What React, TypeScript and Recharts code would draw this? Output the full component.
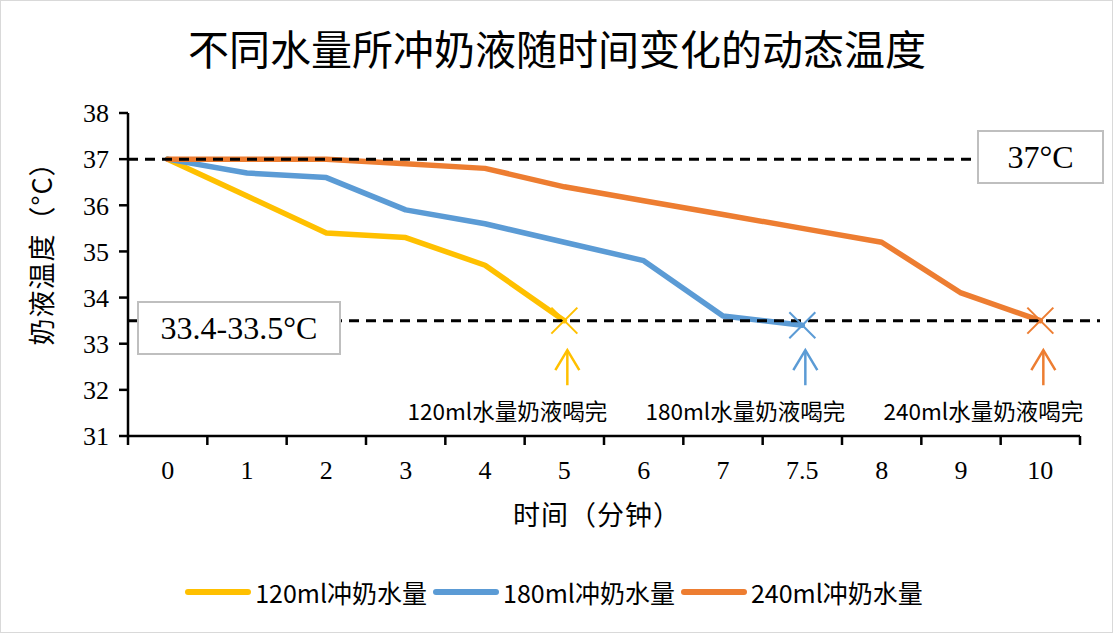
import React from 'react';
import { LineChart, Line, XAxis, YAxis, ReferenceLine } from 'recharts';

// time points (minutes) shown on the x axis, evenly spaced as categories
const TIME_LABELS = ['0', '1', '2', '3', '4', '5', '6', '7', '7.5', '8', '9', '10'];

// milk temperature (°C) per time point; null once the bottle is finished
const ML120 = [37, 36.2, 35.4, 35.3, 34.7, 33.5, null, null, null, null, null, null];
const ML180 = [37, 36.7, 36.6, 35.9, 35.6, 35.2, 34.8, 33.6, 33.4, null, null, null];
const ML240 = [37, 37, 37, 36.9, 36.8, 36.4, 36.1, 35.8, 35.5, 35.2, 34.1, 33.5];

const Y_TICKS = [31, 32, 33, 34, 35, 36, 37, 38];
const START_TEMP = 37;
const END_TEMP = 33.5;

const SERIES = [
  { key: 'ml120', name: '120ml冲奶水量', note: '120ml水量奶液喝完', color: '#FFC000', values: ML120 },
  { key: 'ml180', name: '180ml冲奶水量', note: '180ml水量奶液喝完', color: '#5B9BD5', values: ML180 },
  { key: 'ml240', name: '240ml冲奶水量', note: '240ml水量奶液喝完', color: '#ED7D31', values: ML240 },
];

const data = TIME_LABELS.map((label, i) => ({
  i,
  label,
  ml120: ML120[i],
  ml180: ML180[i],
  ml240: ML240[i],
}));

const lastIndex = (vals: (number | null)[]) => {
  let last = -1;
  vals.forEach((v, i) => {
    if (v != null) last = i;
  });
  return last;
};

// category boundaries get the tick marks, category centres get the labels
const X_TICKS: number[] = [];
TIME_LABELS.forEach((_, i) => X_TICKS.push(i - 0.5, i));
X_TICKS.push(TIME_LABELS.length - 0.5);

const CJK = '"Noto Sans CJK SC", "Noto Sans", sans-serif';
const SERIF = '"Liberation Serif", "DejaVu Serif", serif';

const XTick = (props: any) => {
  const { x, y, payload } = props;
  const v = payload.value;
  if (!Number.isInteger(v)) {
    return <line x1={x} y1={y} x2={x} y2={y + 9} stroke="#000" strokeWidth={2.5} />;
  }
  return (
    <text x={x} y={y + 34} textAnchor="middle" dominantBaseline="central" fontFamily={SERIF} fontSize={26} fill="#000">
      {TIME_LABELS[v]}
    </text>
  );
};

const endMarker = (last: number, color: string) => (props: any) => {
  const { cx, cy, index } = props;
  if (index !== last || cx == null || cy == null) return <g key={`n-${index}`} />;
  const s = 13;
  return (
    <g key={`x-${index}`}>
      <line x1={cx - s} y1={cy - s} x2={cx + s} y2={cy + s} stroke={color} strokeWidth={2} />
      <line x1={cx - s} y1={cy + s} x2={cx + s} y2={cy - s} stroke={color} strokeWidth={2} />
    </g>
  );
};

const dashedLine = (props: any) => (
  <line
    x1={props.x1}
    y1={props.y1}
    x2={props.x2 + 20}
    y2={props.y2}
    stroke="#000"
    strokeWidth={3}
    strokeDasharray="10 7"
  />
);

const arrowShape = (color: string, note: string) => (props: any) => {
  const { x1, y1, x2, y2 } = props;
  const tipY = Math.min(y1, y2);
  const baseY = Math.max(y1, y2);
  const x = x1 + 3;
  return (
    <g>
      <line x1={x} y1={baseY} x2={x} y2={tipY} stroke={color} strokeWidth={2.5} />
      <polyline
        points={`${x - 12},${tipY + 20} ${x},${tipY} ${x + 12},${tipY + 20}`}
        fill="none"
        stroke={color}
        strokeWidth={2.5}
      />
      <text
        x={x1 - 57}
        y={baseY + 25}
        textAnchor="middle"
        dominantBaseline="central"
        fontFamily={CJK}
        fontSize={22.5}
        fill="#000"
      >
        {note}
      </text>
    </g>
  );
};

const boxStyle: React.CSSProperties = {
  position: 'absolute',
  background: '#fff',
  border: '2px solid #bfbfbf',
  boxSizing: 'border-box',
  display: 'flex',
  alignItems: 'center',
  justifyContent: 'center',
  fontFamily: SERIF,
  fontSize: 32,
  color: '#000',
};

export default function App() {
  return (
    <div
      style={{
        position: 'relative',
        width: 1114,
        height: 635,
        background: '#fff',
        overflow: 'hidden',
      }}
    >
      <style>{'body{margin:0}'}</style>
      <div
        style={{
          position: 'absolute',
          left: 0,
          top: 0,
          width: 1113,
          height: 633,
          border: '1px solid #d9d9d9',
          boxSizing: 'border-box',
        }}
      />
      <div
        style={{
          position: 'absolute',
          left: 0,
          top: 21,
          width: 1114,
          textAlign: 'center',
          fontFamily: CJK,
          fontSize: 41,
          lineHeight: '52px',
          color: '#000',
        }}
      >
        不同水量所冲奶液随时间变化的动态温度
      </div>

      <LineChart width={1114} height={635} data={data} margin={{ top: 113, right: 34, bottom: 139, left: 0 }}>
        <XAxis
          dataKey="i"
          type="number"
          domain={[-0.5, TIME_LABELS.length - 0.5]}
          ticks={X_TICKS}
          interval={0}
          tickSize={0}
          tickMargin={0}
          tickLine={false}
          tick={XTick}
          height={60}
          axisLine={{ stroke: '#000', strokeWidth: 2.5 }}
        />
        <YAxis
          type="number"
          domain={[31, 38]}
          ticks={Y_TICKS}
          interval={0}
          width={128}
          tickSize={9}
          tickMargin={10}
          tick={{ fill: '#000', fontSize: 26, fontFamily: SERIF }}
          tickLine={{ stroke: '#000', strokeWidth: 2.5 }}
          axisLine={{ stroke: '#000', strokeWidth: 2.5 }}
        />
        {SERIES.map((s) => (
          <Line
            key={s.key}
            type="linear"
            dataKey={s.key}
            name={s.name}
            stroke={s.color}
            strokeWidth={5.5}
            strokeLinejoin="round"
            strokeLinecap="round"
            connectNulls={false}
            dot={endMarker(lastIndex(s.values), s.color)}
            activeDot={false}
            isAnimationActive={false}
          />
        ))}
        <ReferenceLine y={START_TEMP} shape={dashedLine} />
        <ReferenceLine y={END_TEMP} shape={dashedLine} />
        {SERIES.map((s) => {
          const li = lastIndex(s.values);
          return (
            <ReferenceLine
              key={`a-${s.key}`}
              segment={[
                { x: li, y: 32.1 },
                { x: li, y: 32.86 },
              ]}
              shape={arrowShape(s.color, s.note)}
            />
          );
        })}
      </LineChart>

      <div style={{ ...boxStyle, left: 977, top: 130, width: 127, height: 54 }}>37°C</div>
      <div style={{ ...boxStyle, left: 137, top: 301, width: 204, height: 54 }}>33.4-33.5°C</div>

      <div
        style={{
          position: 'absolute',
          left: 40,
          top: 247,
          transform: 'translate(-50%, -50%) rotate(-90deg)',
          whiteSpace: 'nowrap',
          fontFamily: CJK,
          fontSize: 27,
          letterSpacing: 1,
          color: '#000',
        }}
      >
        奶液温度（°C）
      </div>
      <div
        style={{
          position: 'absolute',
          left: 597,
          top: 513,
          transform: 'translate(-50%, -50%)',
          whiteSpace: 'nowrap',
          fontFamily: CJK,
          fontSize: 27,
          letterSpacing: 1,
          color: '#000',
        }}
      >
        时间（分钟）
      </div>

      <div
        style={{
          position: 'absolute',
          left: 0,
          top: 592,
          width: 1114,
          transform: 'translateY(-50%)',
          display: 'flex',
          justifyContent: 'center',
          alignItems: 'center',
          fontFamily: CJK,
          fontSize: 25,
          color: '#000',
        }}
      >
        {SERIES.map((s) => (
          <div key={s.key} style={{ display: 'flex', alignItems: 'center', marginRight: 6 }}>
            <div style={{ width: 66, height: 6, borderRadius: 3, background: s.color, marginRight: 4 }} />
            <span>{s.name}</span>
          </div>
        ))}
      </div>
    </div>
  );
}
